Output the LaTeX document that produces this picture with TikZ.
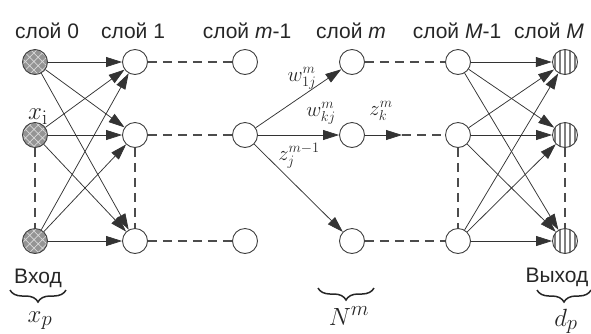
\documentclass[tikz,border=0pt]{standalone}
\usepackage[no-math]{fontspec}
\setmainfont{Liberation Sans}
\usetikzlibrary{arrows.meta,patterns.meta,decorations.pathreplacing}
\begin{document}
\begin{tikzpicture}[x=1pt,y=-1pt,
  neuron/.style={circle,draw=black!75,line width=0.9pt,minimum size=25pt,inner sep=0pt},
  hid/.style={neuron,fill=white},
  inp/.style={neuron,preaction={fill=black!42},pattern={Hatch[angle=45,distance=6pt,line width=0.7pt]},pattern color=white!85!black},
  outp/.style={neuron,preaction={fill=white},pattern={Lines[angle=90,distance=5pt,line width=1.4pt]},pattern color=black!50},
  conn/.style={draw=black!80,line width=0.75pt,-{Triangle[length=16pt,width=10pt]}},
  dsh/.style={draw=black!70,line width=1.1pt,dash pattern=on 9pt off 6pt},
  lbl/.style={font=\fontsize{21}{24}\selectfont,text=black!85,inner sep=0pt,anchor=base},
  mlbl/.style={font=\fontsize{30}{34}\selectfont,text=black!85,inner sep=0pt,anchor=base},
  wlbl/.style={font=\fontsize{22}{26}\selectfont,text=black!85,inner sep=0pt,anchor=base},
  brc/.style={draw=black!85,decorate,decoration={brace,mirror,amplitude=12pt},line width=1.5pt}
]
\useasboundingbox (0,0) rectangle (591,333);

% nodes
\node[inp] (a0) at (35,62) {};
\node[inp] (b0) at (35,135) {};
\node[inp] (c0) at (35,241) {};
\node[hid] (a1) at (135,62) {};
\node[hid] (b1) at (135,135) {};
\node[hid] (c1) at (135,241) {};
\node[hid] (ap) at (245,62) {};
\node[hid] (bp) at (245,135) {};
\node[hid] (cp) at (245,241) {};
\node[hid] (aq) at (352,62) {};
\node[hid] (bq) at (352,135) {};
\node[hid] (cq) at (352,241) {};
\node[hid] (ar) at (458,62) {};
\node[hid] (br) at (458,135) {};
\node[hid] (cr) at (458,241) {};
\node[outp] (as) at (565,62) {};
\node[outp] (bs) at (565,135) {};
\node[outp] (cs) at (565,241) {};
\coordinate (zk) at (402,135);

% connections
\foreach \s in {a0,b0,c0}{\foreach \t in {a1,b1,c1}{\draw[conn] (\s) -- (\t);}}
\foreach \s in {ar,br,cr}{\foreach \t in {as,bs,cs}{\draw[conn] (\s) -- (\t);}}
\foreach \t in {aq,bq,cq}{\draw[conn] (bp) -- (\t);}
\draw[conn] (bq) -- (zk);
\draw[dsh] (zk) -- (br);
\draw[dsh] (a1) -- (ap);
\draw[dsh] (b1) -- (bp);
\draw[dsh] (c1) -- (cp);
\draw[dsh] (aq) -- (ar);
\draw[dsh] (cq) -- (cr);
\draw[dsh] (b0) -- (c0);
\draw[dsh] (b1) -- (c1);
\draw[dsh] (br) -- (cr);
\draw[dsh] (bs) -- (cs);

% layer headers
\node[lbl] (h0) at (47,38) {слой 0};
\node[lbl] (h1) at (133,38) {слой 1};
\node[lbl] (hp) at (247,38) {слой \textit{m}-1};
\node[lbl] (hq) at (351,38) {слой \textit{m}};
\node[lbl] (hr) at (457,38) {слой \textit{M}-1};
\node[lbl] (hs) at (549,38) {слой \textit{M}};

% weight labels
\node[mlbl] (xi) at (38,119) {$x_{\mathrm{i}}$};
\node[wlbl] (w1) at (302,81) {$w^{m}_{1j}$};
\node[wlbl] (wk) at (321,116) {$w^{m}_{kj}$};
\node[wlbl] (zkl) at (381,115) {$z^{m}_{k}$};
\node[wlbl] (zj) at (299,160) {$z^{m-1}_{j}$};

% bottom labels
\node[lbl] (vin) at (38,283) {Вход};
\node[lbl] (vout) at (557,282) {Выход};
\draw[brc] (10,290) -- (66,290);
\draw[brc] (318,288) -- (374,288);
\draw[brc] (537,290) -- (591,290);
\node[mlbl] (xp) at (40,322) {$x_p$};
\node[mlbl] (nm) at (349,325) {$N^m$};
\node[mlbl] (dp) at (566,326) {$d_p$};
\end{tikzpicture}
\end{document}
